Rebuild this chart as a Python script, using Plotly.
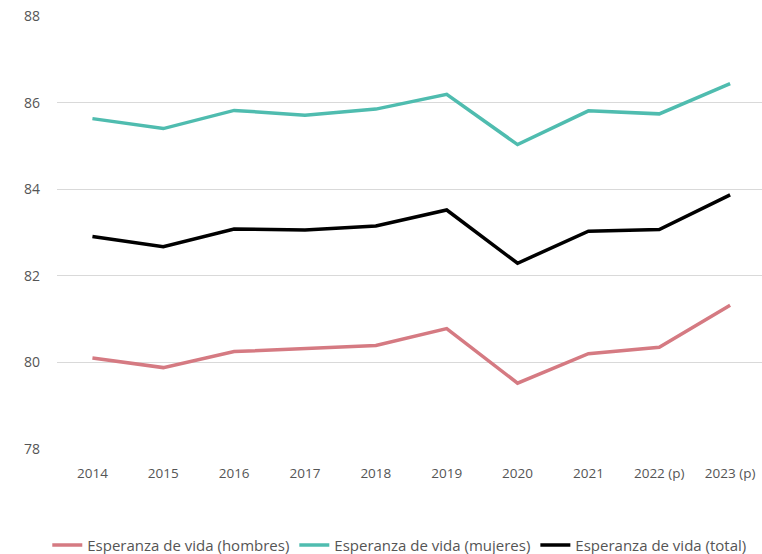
import plotly.graph_objects as go

years = ["2014", "2015", "2016", "2017", "2018", "2019", "2020", "2021", "2022 (p)", "2023 (p)"]
hombres = [80.10, 79.88, 80.25, 80.32, 80.39, 80.78, 79.52, 80.20, 80.35, 81.32]
mujeres = [85.63, 85.40, 85.82, 85.71, 85.85, 86.19, 85.03, 85.81, 85.74, 86.44]
total = [82.91, 82.67, 83.08, 83.06, 83.15, 83.52, 82.29, 83.03, 83.07, 83.87]

series = [
    ("Esperanza de vida (hombres)", hombres, "#D57A82"),
    ("Esperanza de vida (mujeres)", mujeres, "#4FBCAF"),
    ("Esperanza de vida (total)", total, "#000000"),
]

fig = go.Figure()
for name, vals, color in series:
    fig.add_trace(go.Scatter(x=years, y=vals, name=name, mode="lines",
                             line=dict(color=color, width=3.5)))

fig.update_layout(
    width=762, height=554,
    margin=dict(l=57, r=0, t=16, b=105),
    paper_bgcolor="white", plot_bgcolor="white",
    font=dict(family="Open Sans, sans-serif", color="#555555", size=13),
    showlegend=True,
    legend=dict(orientation="h", xref="container", x=0.524, xanchor="center",
                yref="container", y=0.016, yanchor="middle",
                font=dict(size=15, color="#555555"), itemwidth=30,
                tracegroupgap=0),
)
fig.update_xaxes(type="category", range=[-0.5, 9.45], showgrid=False, showline=False,
                 ticks="", ticklabelstandoff=14,
                 tickfont=dict(size=13.5, color="#555555"))
fig.update_yaxes(range=[78, 88], dtick=2, showgrid=True, gridcolor="#D9D9D9",
                 gridwidth=1, zeroline=False, showline=False, ticks="",
                 ticklabelstandoff=16, tickfont=dict(size=14, color="#555555"))

fig.write_html("out.html", config={"displayModeBar": False},
               post_script="document.body.style.margin='0';")
